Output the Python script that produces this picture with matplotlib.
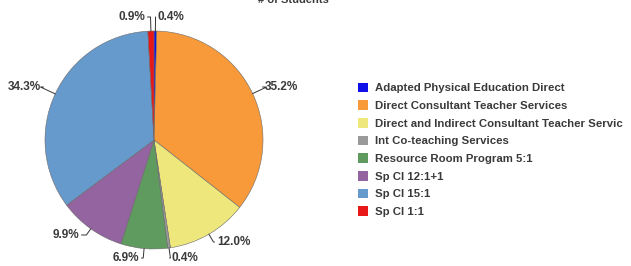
import matplotlib
matplotlib.use("Agg")
import matplotlib.pyplot as plt
import numpy as np

plt.rcParams['font.family'] = ['Liberation Sans', 'DejaVu Sans']

# data (clockwise from 12 o'clock)
categories = [
    "Adapted Physical Education Direct",
    "Direct Consultant Teacher Services",
    "Direct and Indirect Consultant Teacher Servic",
    "Int Co-teaching Services",
    "Resource Room Program 5:1",
    "Sp Cl 12:1+1",
    "Sp Cl 15:1",
    "Sp Cl 1:1",
]
shares = [0.4, 35.2, 12.0, 0.4, 6.9, 9.9, 34.3, 0.9]
colors = ["#1010e8", "#f99a3a", "#eee77c", "#9a9a9a", "#5f9a5f", "#93649f", "#6699cc", "#e81818"]

# label anchor (figure pixels from top-left) and alignment per slice
label_px = [(158, 17), (265, 87), (217, 242), (172, 258), (139, 258), (79, 235), (41, 87), (145, 17)]
label_ha = ["left", "left", "left", "left", "right", "right", "right", "right"]

W, H = 631, 266
fig = plt.figure(figsize=(W / 100, H / 100), dpi=100)
cx, cy, r = 154, 140, 109
ax = fig.add_axes([(cx - r) / W, (H - cy - r) / H, 2 * r / W, 2 * r / H])

wedges, _ = ax.pie(shares, colors=colors, startangle=90, counterclock=False,
                   radius=1.0, wedgeprops=dict(edgecolor="#6a6a6a", linewidth=0.4))
ax.set_xlim(-1, 1)
ax.set_ylim(-1, 1)
ax.set_aspect('equal')
ax.axis('off')

txt_col = "#3a3a3a"
for w, val, (px, py), ha in zip(wedges, shares, label_px, label_ha):
    mid = (w.theta1 + w.theta2) / 2
    ang = np.deg2rad(mid)
    x0, y0 = np.cos(ang), np.sin(ang)
    tx = (px - cx) / r
    ty = (cy - py) / r
    # small gap between leader and text
    gap = 2.5 / r
    lx = tx - gap if ha == "left" else tx + gap
    ax.text(tx, ty, f"{val:.1f}%", ha=ha, va="center", fontsize=8.5,
            fontweight="bold", color=txt_col, clip_on=False)
    # leader: horizontal stub from text, then along the radius to the edge
    ax.annotate("", xy=(x0, y0), xytext=(lx, ty), annotation_clip=False,
                arrowprops=dict(arrowstyle="-", color="#333333", lw=0.7,
                                shrinkA=0, shrinkB=0,
                                connectionstyle=f"angle,angleA={0 if ha == 'left' else 180},angleB={mid},rad=0"))

fig.text(258 / W, 1.0, "# of Students", ha="left", va="center",
         fontsize=8, fontweight="bold", color=txt_col)

leg = fig.legend(wedges, categories, loc="upper left",
                 bbox_to_anchor=(353 / W, 1 - 78 / H), frameon=False,
                 prop=dict(size=8.2, weight="bold"), labelcolor=txt_col,
                 handlelength=0.95, handleheight=0.95, handletextpad=0.6,
                 labelspacing=0.6, borderaxespad=0)
for h in leg.legend_handles:
    h.set_edgecolor("none")

fig.savefig("out.png", dpi=100)
